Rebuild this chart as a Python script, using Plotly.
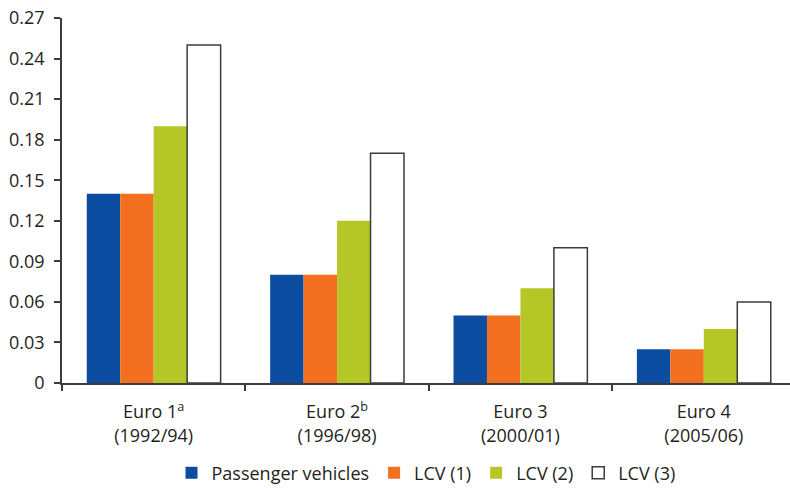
import plotly.graph_objects as go

categories = ["Euro 1<sup>a</sup><br>(1992/94)", "Euro 2<sup>b</sup><br>(1996/98)",
              "Euro 3<br>(2000/01)", "Euro 4<br>(2005/06)"]
passenger = [0.14, 0.08, 0.05, 0.025]
lcv1 = [0.14, 0.08, 0.05, 0.025]
lcv2 = [0.19, 0.12, 0.07, 0.04]
lcv3 = [0.25, 0.17, 0.10, 0.06]
y_ticks = [0, 0.03, 0.06, 0.09, 0.12, 0.15, 0.18, 0.21, 0.24, 0.27]
y_labels = ["0", "0.03", "0.06", "0.09", "0.12", "0.15", "0.18", "0.21", "0.24", "0.27"]

axis_col = "#3c3c3c"
fs = 18
fig = go.Figure()
fig.add_bar(x=categories, y=passenger, name="Passenger vehicles",
            marker=dict(color="#0C4DA2", line=dict(width=0)))
fig.add_bar(x=categories, y=lcv1, name="LCV (1)",
            marker=dict(color="#F37021", line=dict(width=0)))
fig.add_bar(x=categories, y=lcv2, name="LCV (2)",
            marker=dict(color="#B5C726", line=dict(width=0)))
fig.add_bar(x=categories, y=lcv3, name="LCV (3)",
            marker=dict(color="#FFFFFF", line=dict(width=1.5, color=axis_col)))

fig.update_layout(
    width=790, height=489,
    margin=dict(l=62, r=0, t=18, b=106, autoexpand=False),
    paper_bgcolor="white", plot_bgcolor="white",
    barmode="group", bargap=0.27, bargroupgap=0,
    font=dict(family="Open Sans", size=fs, color="#231f20"),
    showlegend=True,
    legend=dict(orientation="h", x=0.5, xanchor="center", y=-0.247, yanchor="middle",
                font=dict(size=fs), traceorder="normal"),
    xaxis=dict(type="category", range=[-0.5, 3.47], tickson="boundaries",
               ticks="outside", ticklen=6, tickcolor=axis_col, tickwidth=1.5,
               showline=True, linecolor=axis_col, linewidth=1.5,
               showgrid=False, tickfont=dict(size=fs), automargin=False,
               ticklabelstandoff=12),
    yaxis=dict(range=[0, 0.27], tickvals=y_ticks, ticktext=y_labels,
               ticks="outside", ticklen=6, tickcolor=axis_col, tickwidth=1.5,
               showline=True, linecolor=axis_col, linewidth=1.5,
               showgrid=False, zeroline=False, tickfont=dict(size=fs), automargin=False,
               ticklabelstandoff=6),
)
fig.write_html("out.html", config={"displayModeBar": False},
               post_script="document.body.style.margin='0';")
